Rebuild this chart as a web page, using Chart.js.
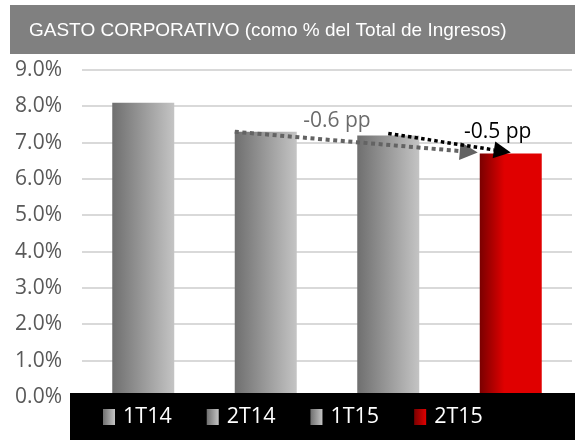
<!DOCTYPE html>
<html>
<head>
<meta charset="utf-8">
<script src="https://cdn.jsdelivr.net/npm/chart.js@4"></script>
<style>
  html, body { margin: 0; padding: 0; background: #fff; }
  #wrap { width: 575px; height: 440px; }
</style>
</head>
<body>
<div id="wrap"><canvas id="gastoChart" width="575" height="440"></canvas></div>
<script>
const titleText = 'GASTO CORPORATIVO (como % del Total de Ingresos)';
const quarters = ['1T14', '2T14', '1T15', '2T15'];
const gastoPct = [8.1, 7.3, 7.2, 6.7];
const yTicks = [0, 1, 2, 3, 4, 5, 6, 7, 8, 9];
// variation arrows: [from index, to index, label]
const arrowFrom = [1, 2];
const arrowTo = [3, 3];
const arrowLabels = ['-0.6 pp', '-0.5 pp'];

const greyStops = ['#6f6f6f', '#c4c4c4'];
const redStops = ['#7a0000', '#e00000'];

function stopsFor(i) { return i === quarters.length - 1 ? redStops : greyStops; }

function barGradient(ctx) {
  const chart = ctx.chart;
  const xs = chart.scales.x;
  if (!xs || !chart.chartArea) return greyStops[1];
  const i = ctx.dataIndex;
  const cx = xs.getPixelForValue(i);
  const w = xs.width / quarters.length * 0.506;
  const g = chart.ctx.createLinearGradient(cx - w / 2, 0, cx + w / 2, 0);
  const s = stopsFor(i);
  g.addColorStop(0, s[0]);
  g.addColorStop(i === quarters.length - 1 ? 0.4 : 1, s[1]);
  if (i === quarters.length - 1) g.addColorStop(1, s[1]);
  return g;
}

function dottedArrow(c, x1, y1, x2, y2, color, lw, head) {
  const ang = Math.atan2(y2 - y1, x2 - x1);
  const bx = x2 - Math.cos(ang) * head, by = y2 - Math.sin(ang) * head;
  c.save();
  c.strokeStyle = color;
  c.fillStyle = color;
  c.lineWidth = lw;
  c.setLineDash([lw, lw * 0.9]);
  c.beginPath();
  c.moveTo(x1, y1);
  c.lineTo(bx, by);
  c.stroke();
  c.setLineDash([]);
  c.beginPath();
  c.moveTo(x2, y2);
  c.lineTo(bx + Math.sin(ang) * head * 0.5, by - Math.cos(ang) * head * 0.5);
  c.lineTo(bx - Math.sin(ang) * head * 0.5, by + Math.cos(ang) * head * 0.5);
  c.closePath();
  c.fill();
  c.restore();
}

const decor = {
  id: 'decor',
  beforeDraw(chart) {
    const c = chart.ctx;
    c.save();
    c.fillStyle = '#808080';
    c.fillRect(10, 5, 565, 49);
    c.fillStyle = '#ffffff';
    c.font = '19px "Liberation Sans", Arial, sans-serif';
    c.textBaseline = 'middle';
    c.fillText(titleText, 29, 31);
    c.restore();
  },
  afterDatasetsDraw(chart) {
    const c = chart.ctx;
    const xs = chart.scales.x, ys = chart.scales.y;
    const w = xs.width / quarters.length * 0.506;
    // grey arrow: left top of 2T14 to left top of 2T15
    const a0 = arrowFrom[0], b0 = arrowTo[0];
    dottedArrow(c, xs.getPixelForValue(a0) - w / 2, ys.getPixelForValue(gastoPct[a0]),
      xs.getPixelForValue(b0) - w / 2 - 2, ys.getPixelForValue(gastoPct[b0]) - 1, '#636363', 4, 18);
    // black arrow: centre of 1T15 to centre of 2T15
    const a1 = arrowFrom[1], b1 = arrowTo[1];
    dottedArrow(c, xs.getPixelForValue(a1), ys.getPixelForValue(gastoPct[a1]) - 2,
      xs.getPixelForValue(b1), ys.getPixelForValue(gastoPct[b1]) - 1, '#000000', 3.5, 17);

    c.save();
    c.font = '21px "Open Sans", sans-serif';
    c.textAlign = 'center';
    c.textBaseline = 'middle';
    c.fillStyle = '#6b6b6b';
    c.fillText(arrowLabels[0], (xs.getPixelForValue(a0) + xs.getPixelForValue(a0 + 1)) / 2 + 10, ys.getPixelForValue(7.6));
    c.fillStyle = '#000000';
    c.fillText(arrowLabels[1], xs.getPixelForValue(b1) - 13, ys.getPixelForValue(7.3));
    c.restore();

    // legend band
    c.save();
    c.fillStyle = '#000000';
    c.fillRect(70, 393, 505, 47);
    c.font = '21.5px "Open Sans", sans-serif';
    c.textBaseline = 'middle';
    let x = 103;
    quarters.forEach((q, i) => {
      const s = stopsFor(i);
      const g = c.createLinearGradient(x, 0, x + 12, 0);
      g.addColorStop(0, s[0]);
      g.addColorStop(1, s[1]);
      c.fillStyle = g;
      c.fillRect(x, 409, 12, 16);
      c.fillStyle = '#ffffff';
      c.fillText(q, x + 20, 417);
      x += 20 + c.measureText(q).width + 35;
    });
    c.restore();
  }
};

new Chart(document.getElementById('gastoChart'), {
  type: 'bar',
  data: {
    labels: quarters,
    datasets: [{
      data: gastoPct,
      backgroundColor: barGradient,
      borderWidth: 0,
      categoryPercentage: 1,
      barPercentage: 0.506
    }]
  },
  options: {
    responsive: false,
    animation: false,
    events: [],
    layout: { padding: { top: 70, bottom: 43, right: 3, left: 0 } },
    plugins: { legend: { display: false }, tooltip: { enabled: false } },
    scales: {
      x: { display: false },
      y: {
        min: 0, max: 9,
        afterFit(s) { s.width = 82; },
        afterBuildTicks(s) { s.ticks = yTicks.map(v => ({ value: v })); },
        border: { display: false },
        grid: { color: '#d9d9d9', lineWidth: 2, drawTicks: false },
        ticks: {
          padding: 20,
          color: '#595959',
          font: { family: '"Open Sans", sans-serif', size: 21 },
          callback: v => v.toFixed(1) + '%'
        }
      }
    }
  },
  plugins: [decor]
});
</script>
</body>
</html>
